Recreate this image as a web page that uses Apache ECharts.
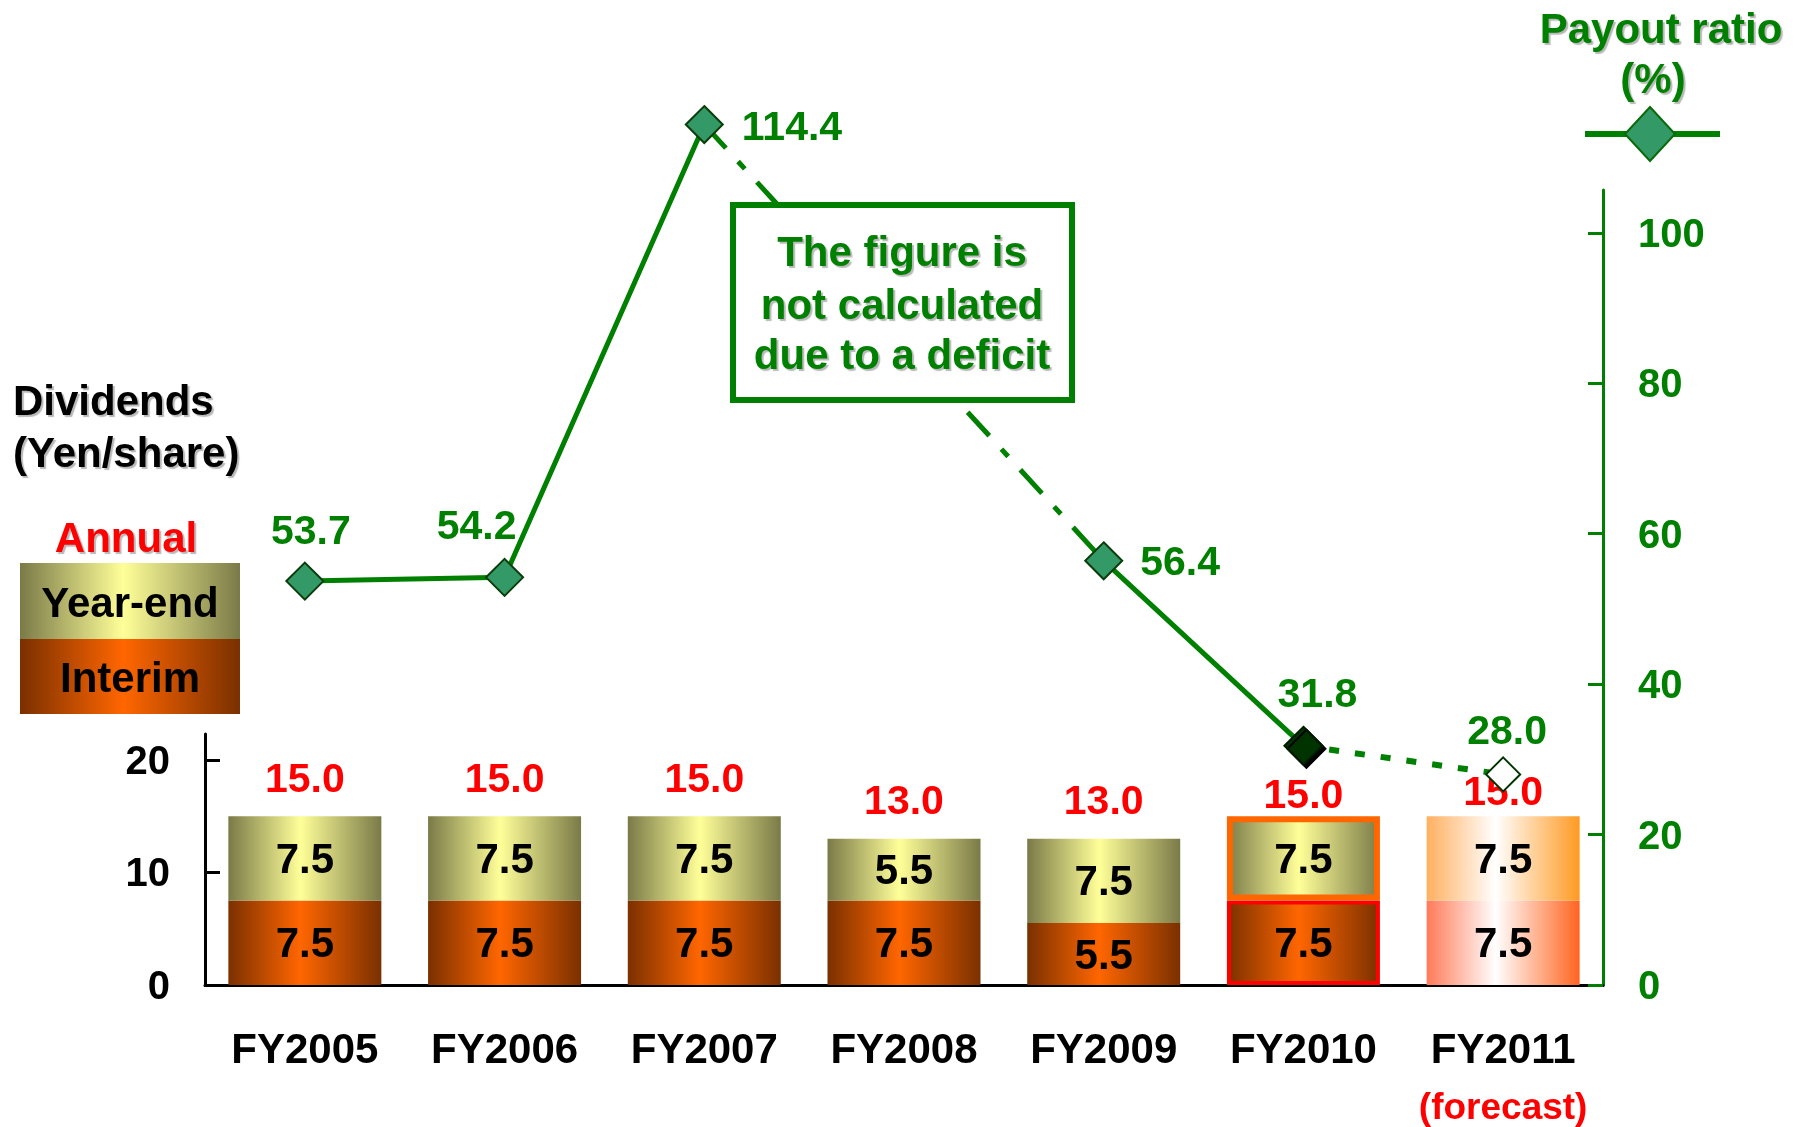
<!DOCTYPE html>
<html><head><meta charset="utf-8">
<script src="https://cdn.jsdelivr.net/npm/echarts@6/dist/echarts.min.js"></script>
<style>html,body{margin:0;padding:0;background:#fff}#c{width:1806px;height:1127px}</style>
</head><body><div id="c"></div>
<script>
// ---------- data ----------
const categories = ['FY2005','FY2006','FY2007','FY2008','FY2009','FY2010','FY2011'];
const interim = [7.5, 7.5, 7.5, 7.5, 5.5, 7.5, 7.5];
const yearEnd = [7.5, 7.5, 7.5, 5.5, 7.5, 7.5, 7.5];
const annual = [15.0, 15.0, 15.0, 13.0, 13.0, 15.0, 15.0];
const payoutRatio = [53.7, 54.2, 114.4, null, 56.4, 31.8, 28.0];
const dividendTicks = [0, 10, 20];
const payoutTicks = [0, 20, 40, 60, 80, 100];
const forecastIndex = 6;
const latestIndex = 5;

// ---------- styles ----------
const FONT = "'Liberation Sans', Arial, sans-serif";
const GREEN = '#008000';
const SH = {textShadowColor:'rgba(0,0,0,0.28)', textShadowOffsetX:2, textShadowOffsetY:2, textShadowBlur:1};
function hgrad(stops){
  return new echarts.graphic.LinearGradient(0,0,1,0, stops.map(s=>({offset:s[0], color:s[1]})));
}
const yeNormal = () => hgrad([[0,'#7a7a48'],[0.47,'#ffff99'],[1,'#7a7a48']]);
const inNormal = () => hgrad([[0,'#7a3000'],[0.47,'#ff6600'],[1,'#7a3000']]);
const yeFore = () => hgrad([[0,'#ffb060'],[0.45,'#ffffff'],[1,'#ff9a22']]);
const inFore = () => hgrad([[0,'#ff7a58'],[0.45,'#ffffff'],[1,'#ff6420']]);

const toE = v => (v == null ? '-' : v);

const interimData = interim.map((v,i)=>({
  value: v,
  itemStyle: i===forecastIndex ? {color: inFore()} :
             i===latestIndex ? {color: inNormal(), borderColor:'#ff0000', borderWidth:4} :
             {color: inNormal()}
}));
const yearEndData = yearEnd.map((v,i)=>({
  value: v,
  itemStyle: i===forecastIndex ? {color: yeFore()} :
             i===latestIndex ? {color: yeNormal(), borderColor:'#ff6600', borderWidth:6} :
             {color: yeNormal()}
}));
const annualData = annual.map((v,i)=>({
  value: v,
  label: i===latestIndex ? {distance:-1} : i===forecastIndex ? {distance:2} : {}
}));

// line pieces derived from payoutRatio
const solidData = payoutRatio.map((v,i)=> i===forecastIndex ? '-' : toE(v));
const bridgeData = payoutRatio.map((v,i)=> (v!=null && (payoutRatio[i+1]===null || payoutRatio[i-1]===null)) ? v : '-');
const forecastData = payoutRatio.map((v,i)=> i>=forecastIndex-1 ? toE(v) : '-');

const labelStyleByIndex = {
  0: {position:'top', distance:8, offset:[6,0]},
  1: {position:'top', distance:10, offset:[-28,0]},
  2: {position:'right', distance:18, offset:[0,4]},
  4: {position:'right', distance:17, offset:[0,3]},
  5: {position:'top', distance:10, offset:[14,0]},
  6: {position:'top', distance:3, offset:[4,0]}
};
const markerData = payoutRatio.map((v,i)=>{
  if (v==null) return '-';
  let itemStyle = {color:'#339966', borderColor:'#0a3d0a', borderWidth:2, opacity:1};
  let size = 37;
  if (i===latestIndex){ itemStyle = {color:'#003300', borderColor:'#001a00', borderWidth:2, opacity:1, shadowColor:'#000', shadowOffsetX:3, shadowOffsetY:3, shadowBlur:0}; size = 38; }
  if (i===forecastIndex){ itemStyle = {color:'#ffffff', borderColor:'#003300', borderWidth:2, opacity:1}; size = 34; }
  return {value:v, symbolSize:size, itemStyle, label: labelStyleByIndex[i] || {}};
});

const gridL = 205, gridR = 1806-1603;

const chart = echarts.init(document.getElementById('c'), null, {renderer:'canvas'});

function gtext(x, y, text, size, color, align, shadow){
  return {type:'text', x, y: y+3, z:100, style:Object.assign({
    text, font:`bold ${size}px ${FONT}`, fill:color, align:align||'center', verticalAlign:'middle'
  }, shadow||SH)};
}
function axisRich(color){
  return {a:{color, fontSize:40, fontWeight:'bold', fontFamily:FONT, padding:[6,0,0,0]}};
}

const option = {
  backgroundColor:'#ffffff',
  animation:false,
  textStyle:{fontFamily:FONT},
  grid:[
    {left:gridL, right:gridR, top:734, bottom:1127-985, containLabel:false, outerBoundsMode:'none'},
    {left:gridL, right:gridR, top:190, bottom:1127-985, containLabel:false, outerBoundsMode:'none'}
  ],
  xAxis:[
    {type:'category', gridIndex:0, data:categories, boundaryGap:true,
     axisLine:{lineStyle:{color:'#000', width:3}},
     axisTick:{inside:true, length:13, lineStyle:{color:'#000', width:2}},
     axisLabel:{color:'#000', fontSize:42, fontWeight:'bold', fontFamily:FONT, margin:37, lineHeight:58,
       interval:0,
       formatter:(v,i)=> i===forecastIndex ? v+'\n{f|(forecast)}' : v,
       rich:{f:{color:'#ff0000', fontSize:37, fontWeight:'bold', fontFamily:FONT, lineHeight:58,
                textShadowColor:'rgba(0,0,0,0.25)', textShadowOffsetX:2, textShadowOffsetY:2}}}
    },
    {type:'category', gridIndex:1, data:categories, boundaryGap:true, show:false}
  ],
  yAxis:[
    {type:'value', gridIndex:0, min:0, max:22.3, interval:10, position:'left',
     splitLine:{show:false},
     axisLine:{show:true, lineStyle:{color:'#000', width:3}},
     axisTick:{show:true, inside:true, length:15, lineStyle:{color:'#000', width:3}, customValues:dividendTicks},
     axisLabel:{color:'#000', fontSize:40, fontWeight:'bold', fontFamily:FONT, margin:35, customValues:dividendTicks,
       formatter:v=>'{a|'+v+'}', rich:axisRich('#000')}
    },
    {type:'value', gridIndex:1, min:0, max:105.7, interval:20, position:'right',
     splitLine:{show:false},
     axisLine:{show:true, lineStyle:{color:GREEN, width:3}},
     axisTick:{show:true, inside:true, length:15, lineStyle:{color:GREEN, width:3}, customValues:payoutTicks},
     axisLabel:{color:GREEN, fontSize:40, fontWeight:'bold', fontFamily:FONT, margin:35, customValues:payoutTicks,
       formatter:v=>'{a|'+v+'}', rich:axisRich(GREEN)}
    }
  ],
  series:[
    {name:'Interim', type:'bar', xAxisIndex:0, yAxisIndex:0, stack:'div', barWidth:153, data:interimData,
     label:{show:true, position:'inside', offset:[0,3], color:'#000', fontSize:42, fontWeight:'bold', fontFamily:FONT,
            formatter:p=>Number(p.value).toFixed(1)}},
    {name:'Year-end', type:'bar', xAxisIndex:0, yAxisIndex:0, stack:'div', barWidth:153, data:yearEndData,
     label:{show:true, position:'inside', offset:[0,3], color:'#000', fontSize:42, fontWeight:'bold', fontFamily:FONT,
            formatter:p=>Number(p.value).toFixed(1)}},
    {name:'Annual', type:'bar', xAxisIndex:0, yAxisIndex:0, barWidth:153, barGap:'-100%', data:annualData,
     silent:true, z:1,
     itemStyle:{color:'rgba(0,0,0,0)'},
     label:{show:true, position:'top', distance:15, color:'#ff0000', fontSize:41, fontWeight:'bold', fontFamily:FONT,
            formatter:p=>Number(p.value).toFixed(1)}},
    {name:'PayoutSolid', type:'line', xAxisIndex:1, yAxisIndex:1, data:solidData, connectNulls:false,
     showSymbol:false, symbol:'none', clip:false, z:5,
     lineStyle:{color:GREEN, width:5}},
    {name:'PayoutBridge', type:'line', xAxisIndex:1, yAxisIndex:1, data:bridgeData, connectNulls:true,
     showSymbol:false, symbol:'none', clip:false, z:5,
     lineStyle:{color:GREEN, width:5, type:[32,18,10,18]}},
    {name:'PayoutForecast', type:'line', xAxisIndex:1, yAxisIndex:1, data:forecastData, connectNulls:false,
     showSymbol:false, symbol:'none', clip:false, z:5,
     lineStyle:{color:GREEN, width:6, type:[10,16]}},
    {name:'Payout ratio', type:'scatter', xAxisIndex:1, yAxisIndex:1, data:markerData, symbol:'diamond',
     clip:false, z:6, itemStyle:{opacity:1},
     label:{show:true, position:'top', distance:10, color:GREEN, fontSize:41, fontWeight:'bold', fontFamily:FONT,
            formatter:p=>Number(p.value).toFixed(1)}}
  ],
  graphic:[
    gtext(13, 400, 'Dividends', 42, '#000', 'left'),
    gtext(13, 452, '(Yen/share)', 42, '#000', 'left'),
    gtext(126, 537, 'Annual', 42, '#ff0000', 'center'),
    {type:'rect', z:90, shape:{x:20, y:563, width:220, height:76},
     style:{fill:{type:'linear', x:0, y:0, x2:1, y2:0, colorStops:[{offset:0,color:'#7a7a48'},{offset:0.47,color:'#ffff99'},{offset:1,color:'#7a7a48'}]}}},
    {type:'rect', z:90, shape:{x:20, y:639, width:220, height:75},
     style:{fill:{type:'linear', x:0, y:0, x2:1, y2:0, colorStops:[{offset:0,color:'#7a3000'},{offset:0.47,color:'#ff6600'},{offset:1,color:'#7a3000'}]}}},
    gtext(130, 602, 'Year-end', 42, '#000', 'center', {textShadowColor:'#ffffff', textShadowOffsetX:2, textShadowOffsetY:2, textShadowBlur:0}),
    gtext(130, 677, 'Interim', 42, '#000', 'center', {textShadowColor:'#ffffff', textShadowOffsetX:2, textShadowOffsetY:2, textShadowBlur:0}),
    gtext(1661, 28, 'Payout ratio', 42, GREEN, 'center'),
    gtext(1653, 78, '(%)', 42, GREEN, 'center'),
    {type:'line', z:90, shape:{x1:1585, y1:134, x2:1720, y2:134}, style:{stroke:GREEN, lineWidth:6}},
    {type:'polygon', z:91, shape:{points:[[1650,107],[1675,134],[1650,161],[1625,134]]},
     style:{fill:'#339966', stroke:'#0a6a0a', lineWidth:2}},
    {type:'rect', z:95, shape:{x:733, y:205, width:339, height:195},
     style:{fill:'#ffffff', stroke:GREEN, lineWidth:6}},
    gtext(902, 251, 'The figure is', 42, GREEN, 'center'),
    gtext(902, 304, 'not calculated', 42, GREEN, 'center'),
    gtext(902, 354, 'due to a deficit', 42, GREEN, 'center')
  ]
};
chart.setOption(option);
</script>
</body></html>
